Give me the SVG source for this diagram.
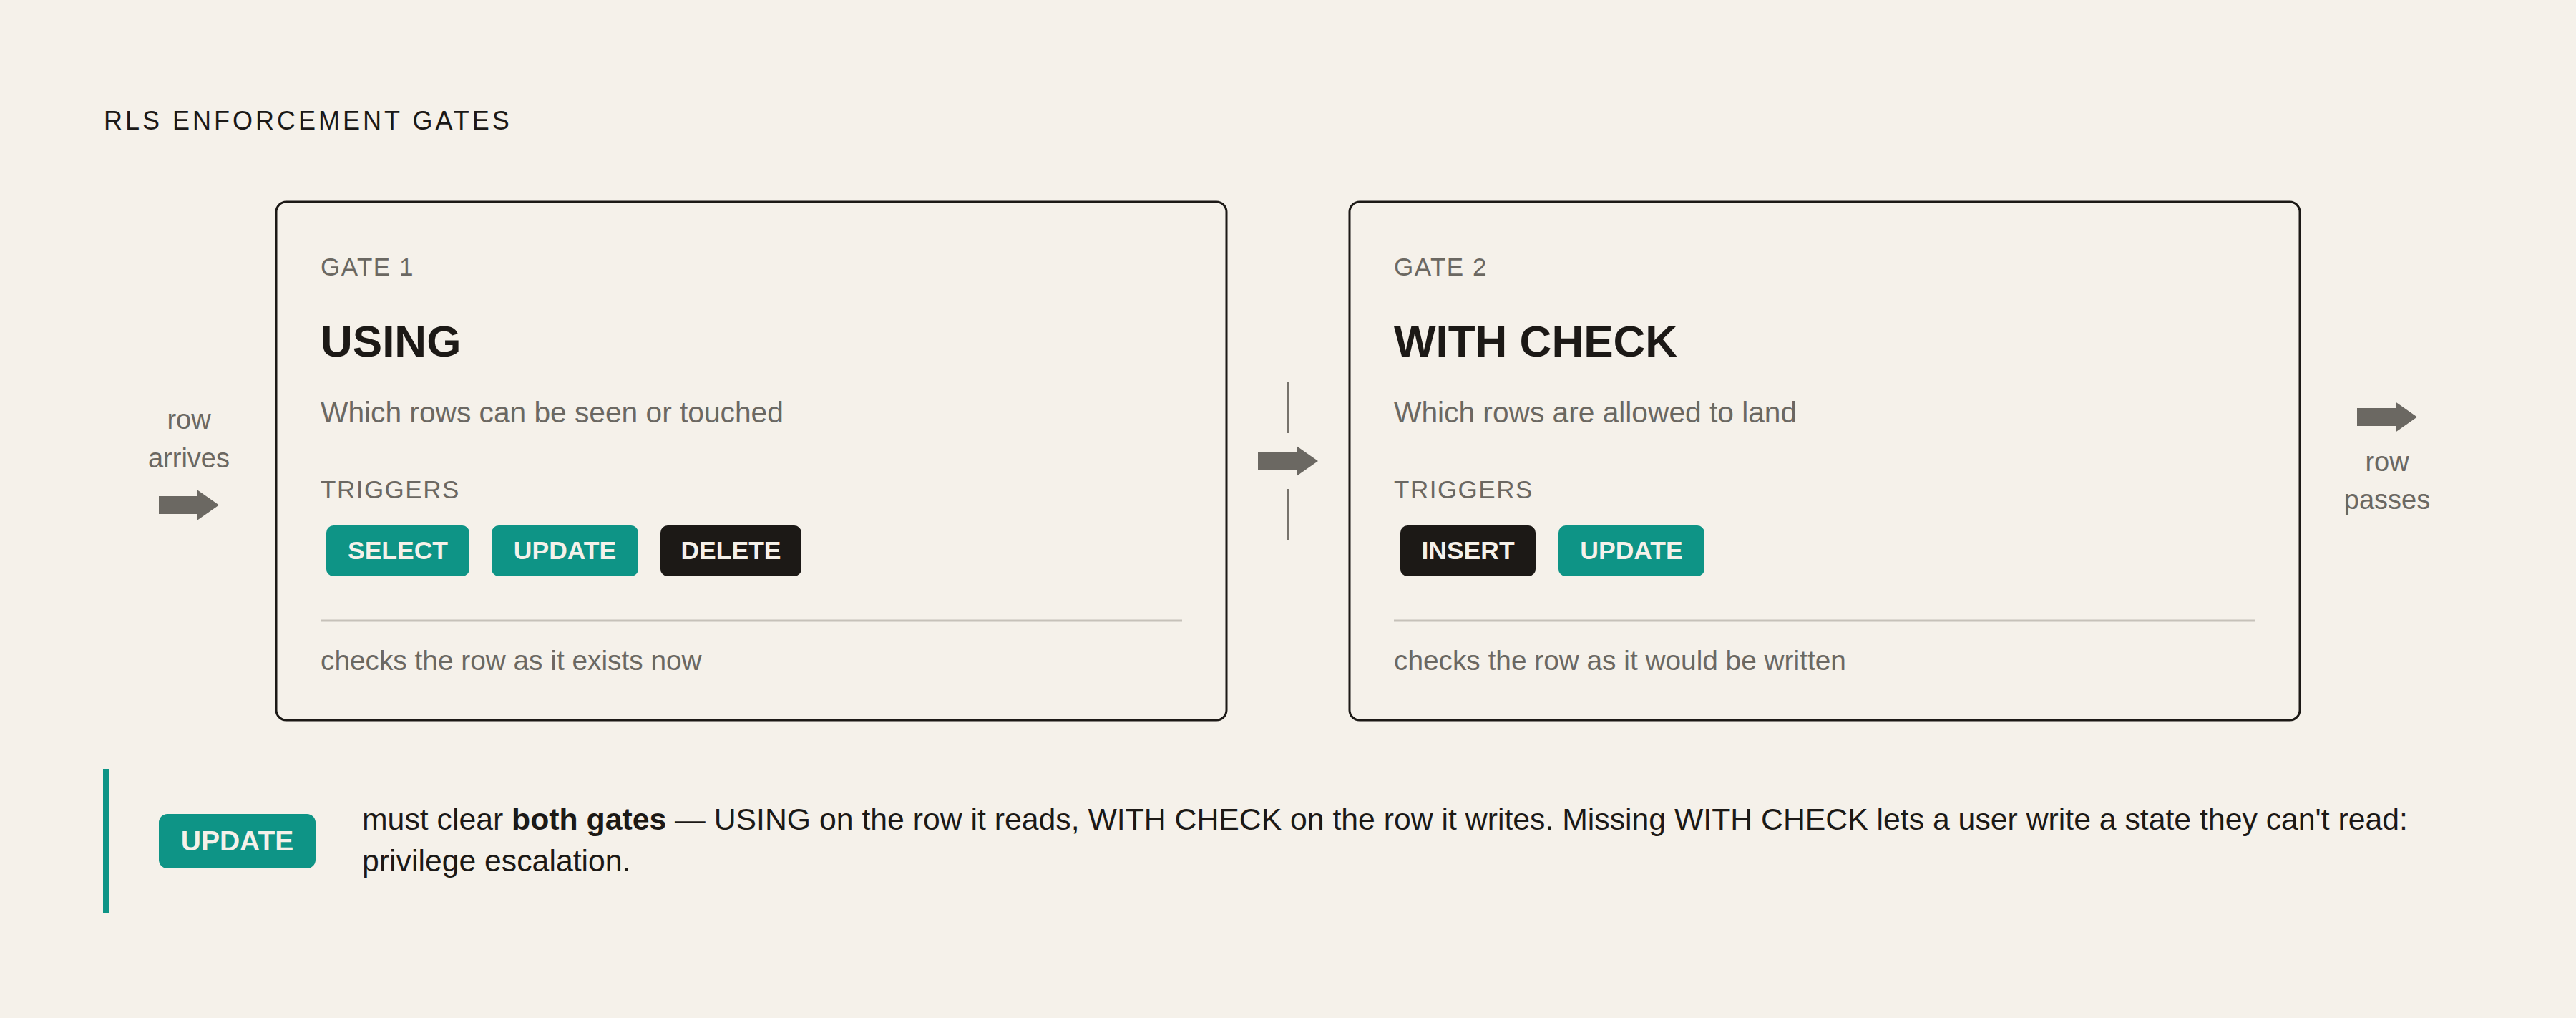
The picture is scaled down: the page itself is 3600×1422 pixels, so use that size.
<svg xmlns="http://www.w3.org/2000/svg" width="3600" height="1422" viewBox="0 0 3600 1422">
  <style>
    text { font-family: "Liberation Sans", Arial, sans-serif; }
    .title { font-size: 36px; fill: #1c1916; letter-spacing: 4px; }
    .eyebrow { font-size: 35px; fill: #6b6862; letter-spacing: 1.5px; }
    .head { font-size: 62px; font-weight: bold; fill: #1c1916; }
    .desc { font-size: 40.7px; fill: #6b6862; }
    .foot { font-size: 38.8px; fill: #6b6862; }
    .side { font-size: 38px; fill: #6b6862; text-anchor: middle; }
    .box { fill: #f5f1ea; stroke: #1c1916; stroke-width: 3; }
    .rule { stroke: #c6c1b9; stroke-width: 3; }
    .pill-teal { fill: #0e9486; }
    .pill-dark { fill: #1c1916; }
    .pill-text { font-size: 35.5px; font-weight: bold; fill: #f5f1ea; text-anchor: middle; }
    .body { font-size: 42.75px; fill: #1c1916; }
    .tick { stroke: #77736c; stroke-width: 3; }
    .arrow { fill: #6b6862; }
  </style>
  <defs>
    <path id="fat-arrow" d="M0,-12.5 H54 V-21 L84,0 L54,21 V12.5 H0 Z"/>
  </defs>

  <rect x="0" y="0" width="3600" height="1422" fill="#f5f1ea"/>

  <g id="title">
    <text class="title" x="145" y="181">RLS ENFORCEMENT GATES</text>
  </g>

  <g id="row-arrives">
    <text class="side" x="264" y="599">row</text>
    <text class="side" x="264" y="653">arrives</text>
  </g>

  <g id="gate1">
    <rect class="box" x="386" y="282" width="1328" height="724" rx="14"/>
    <text class="eyebrow" x="448" y="385">GATE 1</text>
    <text class="head" x="448" y="498">USING</text>
    <text class="desc" x="448" y="590">Which rows can be seen or touched</text>
    <text class="eyebrow" x="448" y="696">TRIGGERS</text>
    <rect class="pill-teal" x="456" y="734" width="200" height="71" rx="10"/>
    <text class="pill-text" x="556" y="781">SELECT</text>
    <rect class="pill-teal" x="687" y="734" width="205" height="71" rx="10"/>
    <text class="pill-text" x="789.5" y="781">UPDATE</text>
    <rect class="pill-dark" x="923" y="734" width="197" height="71" rx="10"/>
    <text class="pill-text" x="1021.5" y="781">DELETE</text>
    <line class="rule" x1="448" y1="867" x2="1652" y2="867"/>
    <text class="foot" x="448" y="936">checks the row as it exists now</text>
  </g>

  <g id="gate2">
    <rect class="box" x="1886" y="282" width="1328" height="724" rx="14"/>
    <text class="eyebrow" x="1948" y="385">GATE 2</text>
    <text class="head" x="1948" y="498">WITH CHECK</text>
    <text class="desc" x="1948" y="590">Which rows are allowed to land</text>
    <text class="eyebrow" x="1948" y="696">TRIGGERS</text>
    <rect class="pill-dark" x="1957" y="734" width="189" height="71" rx="10"/>
    <text class="pill-text" x="2051.5" y="781">INSERT</text>
    <rect class="pill-teal" x="2178" y="734" width="204" height="71" rx="10"/>
    <text class="pill-text" x="2280" y="781">UPDATE</text>
    <line class="rule" x1="1948" y1="867" x2="3152" y2="867"/>
    <text class="foot" x="1948" y="936">checks the row as it would be written</text>
  </g>

  <g id="row-passes">
    <text class="side" x="3336" y="658">row</text>
    <text class="side" x="3336" y="711">passes</text>
  </g>

  <g id="connectors">
    <use href="#fat-arrow" class="arrow" transform="translate(222,705.5)"/>
    <line class="tick" x1="1800" y1="533" x2="1800" y2="605"/>
    <use href="#fat-arrow" class="arrow" transform="translate(1758,644)"/>
    <line class="tick" x1="1800" y1="683" x2="1800" y2="755"/>
    <use href="#fat-arrow" class="arrow" transform="translate(3294,582.5)"/>
  </g>

  <g id="callout">
    <rect x="144" y="1074" width="9" height="202" fill="#0e9486"/>
    <rect class="pill-teal" x="222" y="1137" width="219" height="76" rx="12"/>
    <text class="pill-text" x="331.5" y="1188" style="font-size:39px">UPDATE</text>
    <text class="body" x="506" y="1159">must clear <tspan font-weight="bold">both gates</tspan> — USING on the row it reads, WITH CHECK on the row it writes. Missing WITH CHECK lets a user write a state they can't read:</text>
    <text class="body" x="506" y="1217">privilege escalation.</text>
  </g>
</svg>
